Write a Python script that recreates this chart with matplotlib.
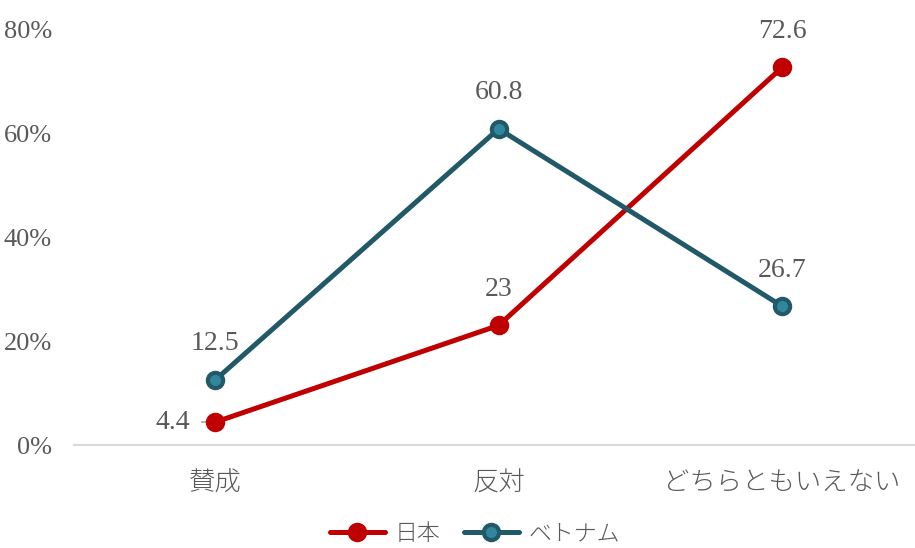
import matplotlib
matplotlib.use("Agg")
import matplotlib.pyplot as plt
from matplotlib.ticker import FuncFormatter

plt.rcParams['font.family'] = ['Liberation Serif', 'Noto Sans CJK JP', 'DejaVu Sans']

categories = ["賛成", "反対", "どちらともいえない"]
japan = [4.4, 23, 72.6]
vietnam = [12.5, 60.8, 26.7]
japan_labels = ["4.4", "23", "72.6"]
vietnam_labels = ["12.5", "60.8", "26.7"]
y_ticks = [0, 20, 40, 60, 80]

red = "#C00000"
teal_edge = "#215968"
teal_face = "#31859C"
text_col = "#595959"
jp_font = ['Noto Sans CJK JP', 'DejaVu Sans']

fig = plt.figure(figsize=(9.15, 5.48), dpi=100)
ax = fig.add_axes([73.5 / 915, 103 / 548, (915 - 73.5) / 915, (445 - 29) / 548])

x = list(range(len(categories)))
ax.plot(x, japan, color=red, lw=3.6, marker="o", ms=11, mfc=red, mec=red, mew=3,
        label="日本", zorder=3, solid_capstyle="round")
ax.plot(x, vietnam, color=teal_edge, lw=3.6, marker="o", ms=11, mfc=teal_face,
        mec=teal_edge, mew=3, label="ベトナム", zorder=3, solid_capstyle="round")

ax.set_xlim(-0.5, (915 - 215) / 283.5)
ax.set_ylim(0, 80)
ax.set_yticks(y_ticks)
ax.yaxis.set_major_formatter(FuncFormatter(lambda v, p: f"{v:.0f}%"))
ax.set_xticks(x)
ax.set_xticklabels(categories)

for s in ["top", "right", "left"]:
    ax.spines[s].set_visible(False)
ax.spines["bottom"].set_color("#D9D9D9")
ax.spines["bottom"].set_linewidth(1.5)
ax.tick_params(axis="both", length=0, colors=text_col)
ax.tick_params(axis="y", pad=15.5, labelsize=19)
ax.tick_params(axis="x", pad=17)
for t in ax.get_xticklabels():
    t.set_fontfamily(jp_font)
    t.set_fontsize(19)
    t.set_fontweight("light")

# data labels
fs = 20
ax.annotate(japan_labels[0], (0, japan[0]), xytext=(-18, 0), textcoords="offset points",
            ha="right", va="center", fontsize=fs, color=text_col)
ax.plot([-0.045, -0.01], [japan[0], japan[0]], color="#A6A6A6", lw=1.2, zorder=2)
for i in (1, 2):
    ax.annotate(japan_labels[i], (i, japan[i]), xytext=(0, 26), textcoords="offset points",
                ha="center", va="center", fontsize=fs, color=text_col)
for i in range(3):
    ax.annotate(vietnam_labels[i], (i, vietnam[i]), xytext=(0, 26), textcoords="offset points",
                ha="center", va="center", fontsize=fs, color=text_col)

leg = fig.legend(loc="center", bbox_to_anchor=(475 / 915, 14 / 548), ncol=2, frameon=False,
                 prop={"family": jp_font, "size": 16.5, "weight": "light"},
                 handlelength=2.4, columnspacing=1.0, handletextpad=0.45,
                 borderpad=0.2)
for t in leg.get_texts():
    t.set_color(text_col)

fig.savefig("out.png", dpi=100)
